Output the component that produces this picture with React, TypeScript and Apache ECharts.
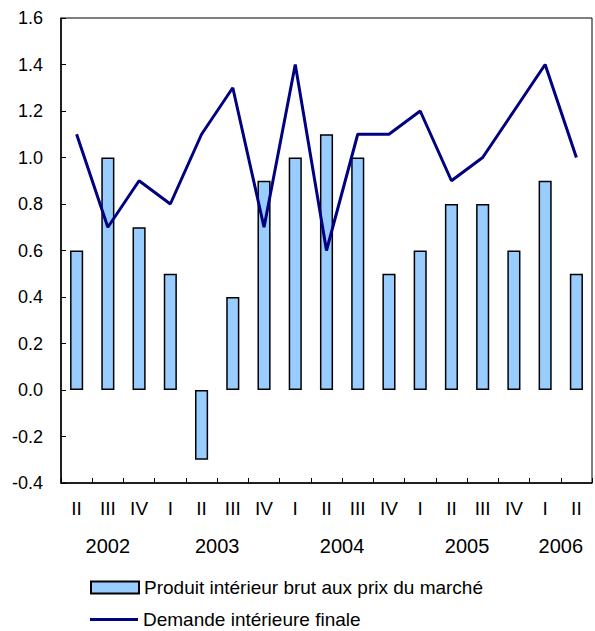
import React, { useEffect, useRef } from "react";
import * as echarts from "echarts";

const quarters = ["II", "III", "IV", "I", "II", "III", "IV", "I", "II", "III", "IV", "I", "II", "III", "IV", "I", "II"];
const gdpValues = [0.6, 1.0, 0.7, 0.5, -0.3, 0.4, 0.9, 1.0, 1.1, 1.0, 0.5, 0.6, 0.8, 0.8, 0.6, 0.9, 0.5];
const demandValues = [1.1, 0.7, 0.9, 0.8, 1.1, 1.3, 0.7, 1.4, 0.6, 1.1, 1.1, 1.2, 0.9, 1.0, 1.2, 1.4, 1.0];
const yearLabels = ["2002", "2003", "2004", "2005", "2006"];
const yearAnchors = [1, 4.5, 8.5, 12.5, 15.5];
const seriesNames = ["Produit intérieur brut aux prix du marché", "Demande intérieure finale"];

const FONT = "'Liberation Sans', Arial, sans-serif";

export default function App() {
  const ref = useRef<HTMLDivElement>(null);
  useEffect(() => {
    if (!ref.current) return;
    const chart = echarts.init(ref.current, null, { renderer: "svg" });
    const legendText = { fontFamily: FONT, fontSize: 19, lineHeight: 19, color: "#000" };
    chart.setOption({
      animation: false,
      backgroundColor: "#fff",
      textStyle: { fontFamily: FONT, color: "#000" },
      grid: {
        left: 61,
        top: 18,
        right: -1,
        bottom: 148,
        show: true,
        borderColor: "#000",
        borderWidth: 1,
      },
      legend: [
        {
          left: 90,
          top: 578,
          padding: 0,
          itemWidth: 48,
          itemHeight: 12,
          icon: "rect",
          textStyle: legendText,
          data: [seriesNames[0]],
        },
        {
          left: 90,
          top: 610,
          padding: 0,
          itemWidth: 48,
          itemHeight: 3,
          icon: "rect",
          textStyle: legendText,
          data: [seriesNames[1]],
        },
      ],
      xAxis: [
        {
          type: "category",
          data: quarters,
          position: "bottom",
          axisLine: { onZero: false, lineStyle: { color: "#000", width: 1.5 } },
          axisTick: { show: true, inside: true, length: 5, alignWithLabel: false, lineStyle: { color: "#000" } },
          axisLabel: { fontFamily: FONT, fontSize: 19, color: "#000", margin: 16, interval: 0 },
        },
        {
          type: "value",
          position: "bottom",
          min: -0.5,
          max: 16.5,
          interval: 0.5,
          axisLine: { show: false },
          axisTick: { show: false },
          splitLine: { show: false },
          axisLabel: {
            fontFamily: FONT,
            fontSize: 20,
            color: "#000",
            margin: 53,
            showMinLabel: true,
            showMaxLabel: true,
            hideOverlap: false,
            formatter: (v: number) => {
              const i = yearAnchors.findIndex((a) => Math.abs(a - v) < 1e-6);
              return i >= 0 ? yearLabels[i] : "";
            },
          },
        },
      ],
      yAxis: {
        type: "value",
        min: -0.4,
        max: 1.6,
        interval: 0.2,
        axisLine: { show: true, onZero: false, lineStyle: { color: "#000", width: 1.5 } },
        axisTick: { show: true, inside: true, length: 5, lineStyle: { color: "#000" } },
        splitLine: { show: false },
        axisLabel: {
          fontFamily: FONT,
          fontSize: 18,
          color: "#000",
          margin: 18,
          formatter: (v: number) => v.toFixed(1),
        },
      },
      series: [
        {
          name: seriesNames[0],
          type: "bar",
          data: gdpValues,
          barWidth: "42%",
          itemStyle: { color: "#99CCFF", borderColor: "#000", borderWidth: 1.5 },
        },
        {
          name: seriesNames[1],
          type: "line",
          data: demandValues,
          symbol: "none",
          lineStyle: { color: "#000080", width: 3 },
          itemStyle: { color: "#000080" },
        },
      ],
    });
    return () => chart.dispose();
  }, []);
  return (
    <div
      ref={ref}
      style={{ position: "fixed", left: 0, top: 0, width: 595, height: 631, background: "#fff" }}
    />
  );
}
